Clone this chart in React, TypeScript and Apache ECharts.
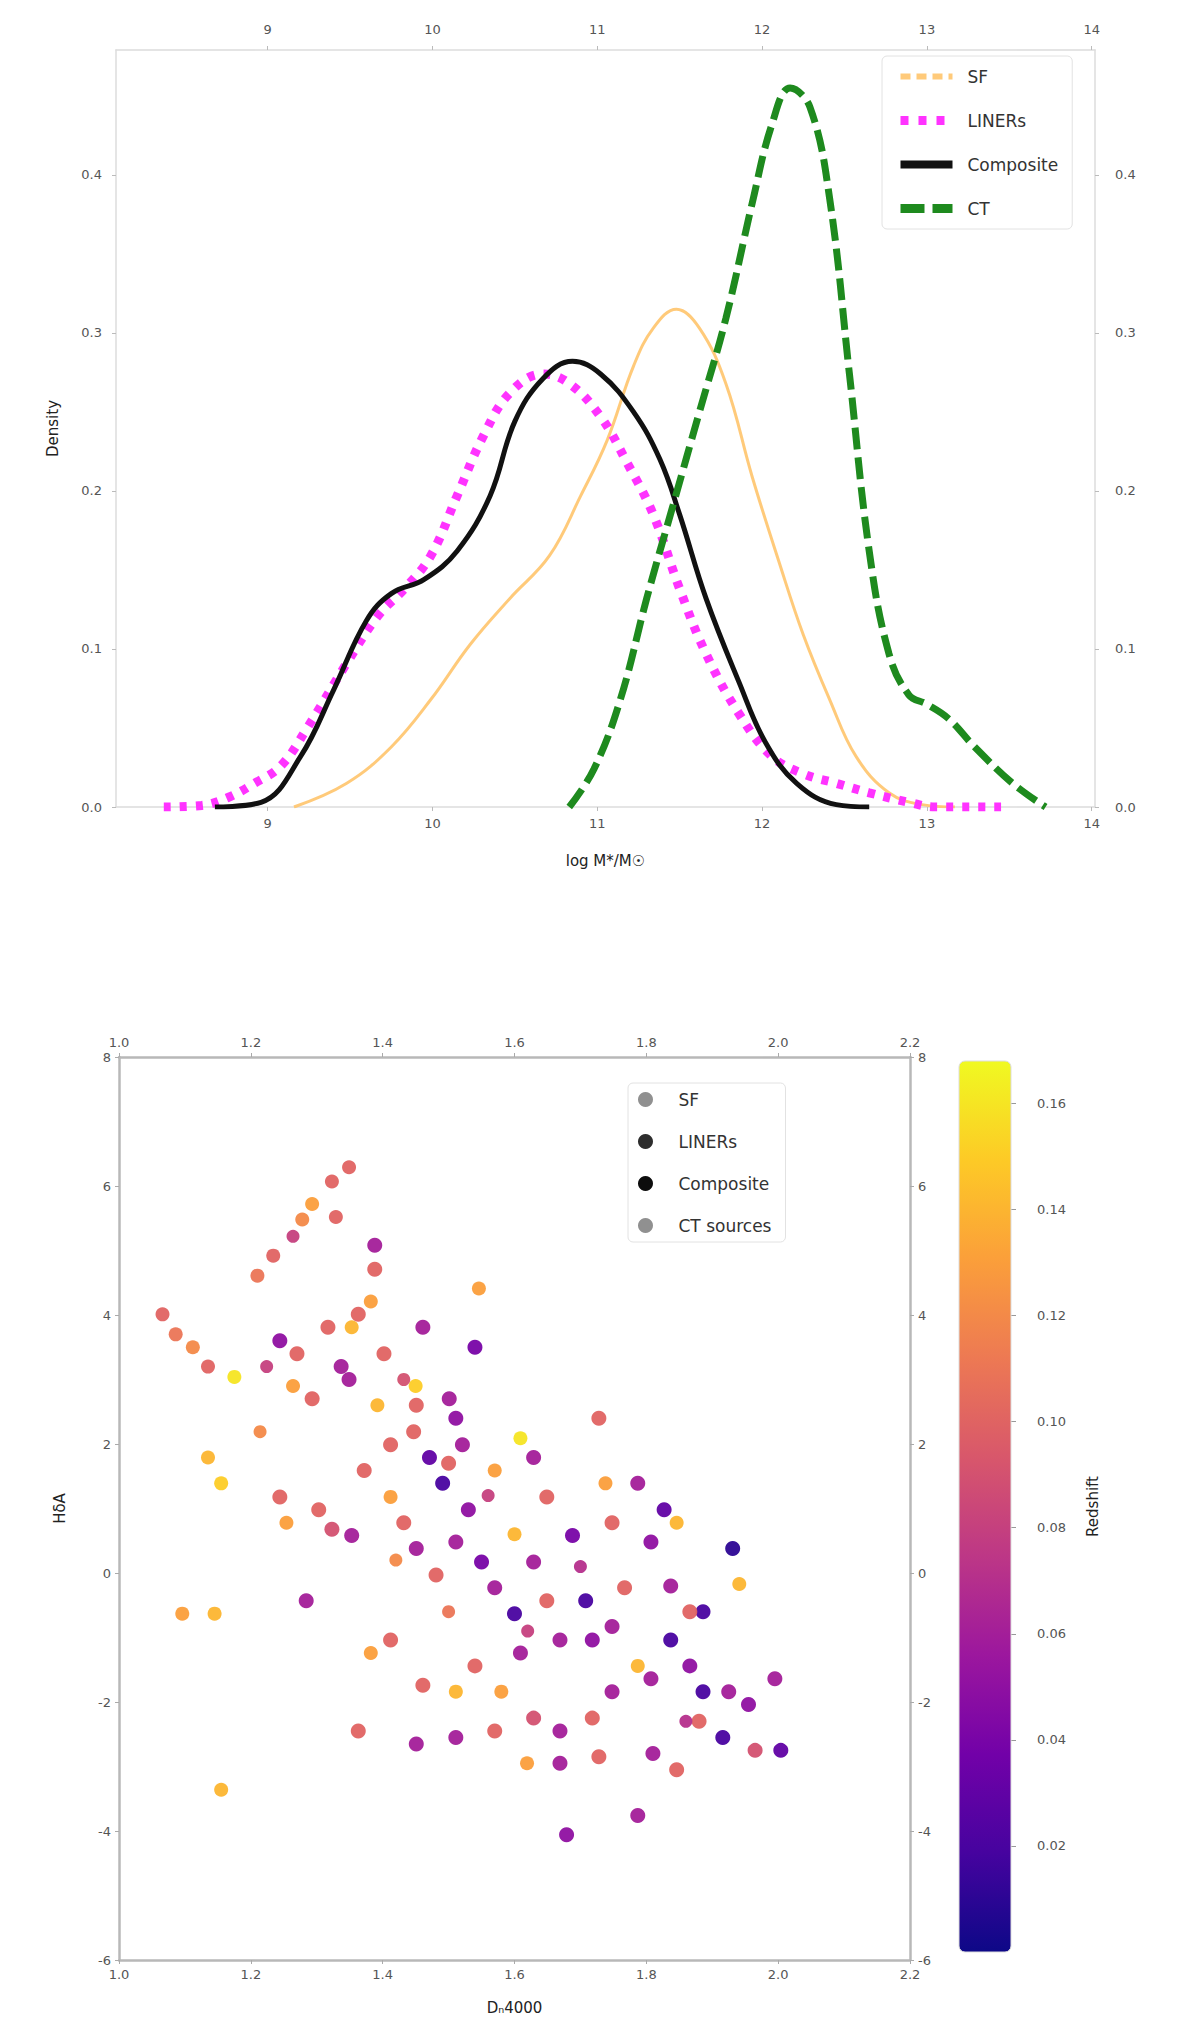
import React, { useEffect, useRef } from "react";
import * as echarts from "echarts";

// ---------- Top panel: density curves ----------
const massTicks = [9, 10, 11, 12, 13, 14];
const densityTicks = [0, 0.1, 0.2, 0.3, 0.4];

const sfCurve = [
  [9.16, 0], [9.48, 0.015], [9.75, 0.038], [9.99, 0.068], [10.23, 0.103], [10.47, 0.132],
  [10.71, 0.159], [10.9, 0.197], [11.06, 0.232], [11.22, 0.279], [11.34, 0.303], [11.48, 0.315],
  [11.62, 0.303], [11.78, 0.268], [11.94, 0.209], [12.1, 0.156], [12.25, 0.109], [12.41, 0.068],
  [12.57, 0.032], [12.77, 0.009], [12.97, 0.0015], [13.17, 0],
];
const linerCurve = [
  [8.37, 0], [8.6, 0.001], [8.76, 0.006], [8.92, 0.015], [9.08, 0.026], [9.24, 0.05], [9.48, 0.091],
  [9.67, 0.121], [9.83, 0.138], [9.99, 0.159], [10.15, 0.197], [10.31, 0.235], [10.47, 0.262],
  [10.67, 0.274], [10.83, 0.268], [11.02, 0.247], [11.18, 0.218], [11.34, 0.185], [11.5, 0.138],
  [11.66, 0.097], [11.86, 0.059], [12.06, 0.032], [12.25, 0.021], [12.45, 0.015], [12.65, 0.009],
  [12.89, 0.003], [13.05, 0], [13.45, 0],
];
const compositeCurve = [
  [8.68, 0], [8.96, 0.003], [9.2, 0.032], [9.4, 0.074], [9.6, 0.118], [9.75, 0.135], [9.95, 0.144],
  [10.15, 0.162], [10.35, 0.197], [10.5, 0.244], [10.67, 0.271], [10.85, 0.282], [11.02, 0.274],
  [11.22, 0.25], [11.38, 0.22], [11.5, 0.185], [11.66, 0.132], [11.86, 0.079], [12.02, 0.041],
  [12.21, 0.015], [12.45, 0.0015], [12.65, 0],
];
const ctCurve = [
  [10.83, 0], [10.98, 0.024], [11.14, 0.068], [11.3, 0.132], [11.46, 0.191], [11.62, 0.25],
  [11.78, 0.309], [11.94, 0.382], [12.06, 0.432], [12.17, 0.455], [12.29, 0.443], [12.41, 0.385],
  [12.53, 0.274], [12.65, 0.162], [12.77, 0.097], [12.89, 0.071], [13.0, 0.065], [13.13, 0.056],
  [13.29, 0.038], [13.52, 0.015], [13.72, 0],
];

// ---------- Bottom panel: Dn4000 vs HdeltaA, colour = redshift ----------
const dnTicks = [1.0, 1.2, 1.4, 1.6, 1.8, 2.0, 2.2];
const hdTicks = [-6, -4, -2, 0, 2, 4, 6, 8];
const zTicks = [0.02, 0.04, 0.06, 0.08, 0.1, 0.12, 0.14, 0.16];

// [Dn4000, HdeltaA, z]
const sfPoints = [
  [1.349, 6.29, 0.1], [1.323, 6.07, 0.1], [1.293, 5.72, 0.13], [1.278, 5.48, 0.12], [1.329, 5.52, 0.1],
  [1.234, 4.92, 0.1], [1.21, 4.61, 0.11], [1.382, 4.21, 0.13], [1.353, 3.81, 0.14], [1.546, 4.41, 0.13],
  [1.066, 4.01, 0.1], [1.086, 3.7, 0.11], [1.112, 3.5, 0.12], [1.135, 3.2, 0.1], [1.175, 3.04, 0.16],
  [1.264, 2.9, 0.13], [1.135, 1.79, 0.14], [1.155, 1.39, 0.15], [1.254, 0.78, 0.13], [1.096, -0.63, 0.13],
  [1.145, -0.63, 0.14], [1.155, -3.36, 0.14], [1.382, -1.24, 0.13], [1.609, 2.09, 0.16], [1.392, 2.6, 0.14],
  [1.412, 1.18, 0.13], [1.57, 1.59, 0.13], [1.738, 1.39, 0.13], [1.846, 0.78, 0.14], [1.941, -0.17, 0.14],
  [1.58, -1.84, 0.13], [1.619, -2.95, 0.13], [1.511, -1.84, 0.14], [1.787, -1.44, 0.14],
  [1.6, 0.6, 0.14], [1.45, 2.9, 0.15],
];
const linerPoints = [
  [1.388, 5.08, 0.06], [1.461, 3.81, 0.06], [1.54, 3.5, 0.04], [1.244, 3.6, 0.05], [1.337, 3.2, 0.06],
  [1.349, 3.0, 0.06], [1.501, 2.7, 0.06], [1.511, 2.4, 0.05], [1.471, 1.79, 0.03], [1.521, 1.99, 0.06],
  [1.491, 1.39, 0.02], [1.53, 0.98, 0.05], [1.629, 1.79, 0.06], [1.787, 1.39, 0.06], [1.827, 0.98, 0.03],
  [1.807, 0.48, 0.05], [1.688, 0.58, 0.04], [1.353, 0.58, 0.06], [1.451, 0.38, 0.06], [1.511, 0.48, 0.06],
  [1.55, 0.17, 0.04], [1.57, -0.23, 0.06], [1.6, -0.63, 0.02], [1.629, 0.17, 0.06], [1.669, -1.04, 0.06],
  [1.708, -0.43, 0.02], [1.718, -1.04, 0.05], [1.748, -0.83, 0.06], [1.807, -1.64, 0.06], [1.837, -1.04, 0.02],
  [1.866, -1.44, 0.05], [1.886, -1.84, 0.02], [1.925, -1.84, 0.06], [1.931, 0.38, 0.01], [1.916, -2.55, 0.02],
  [1.955, -2.04, 0.05], [1.995, -1.64, 0.06], [2.004, -2.75, 0.03], [1.284, -0.43, 0.06], [1.609, -1.24, 0.06],
  [1.669, -2.45, 0.06], [1.748, -1.84, 0.06], [1.451, -2.65, 0.06], [1.511, -2.55, 0.06], [1.669, -2.95, 0.06],
  [1.679, -4.06, 0.05], [1.787, -3.76, 0.06],
  [1.837, -0.2, 0.06], [1.886, -0.6, 0.02], [1.81, -2.8, 0.06],
];
const compositePoints = [
  [1.388, 4.71, 0.1], [1.363, 4.01, 0.1], [1.27, 3.4, 0.1], [1.317, 3.81, 0.1], [1.293, 2.7, 0.1],
  [1.402, 3.4, 0.1], [1.451, 2.6, 0.1], [1.447, 2.19, 0.1], [1.412, 1.99, 0.1], [1.649, 1.18, 0.1],
  [1.728, 2.4, 0.1], [1.748, 0.78, 0.1], [1.244, 1.18, 0.1], [1.303, 0.98, 0.1], [1.323, 0.68, 0.09],
  [1.372, 1.59, 0.1], [1.432, 0.78, 0.1], [1.481, -0.03, 0.1], [1.649, -0.43, 0.1], [1.767, -0.23, 0.1],
  [1.965, -2.75, 0.09], [1.412, -1.04, 0.1], [1.461, -1.74, 0.1], [1.54, -1.44, 0.1], [1.629, -2.25, 0.09],
  [1.718, -2.25, 0.1], [1.363, -2.45, 0.1], [1.57, -2.45, 0.1], [1.728, -2.85, 0.1], [1.846, -3.05, 0.1],
  [1.5, 1.7, 0.1], [1.866, -0.6, 0.1], [1.88, -2.3, 0.1],
];
const ctPoints = [
  [1.264, 5.22, 0.08], [1.224, 3.2, 0.08], [1.214, 2.19, 0.12], [1.432, 3.0, 0.09], [1.56, 1.2, 0.08],
  [1.7, 0.1, 0.07], [1.62, -0.9, 0.08], [1.5, -0.6, 0.11], [1.86, -2.3, 0.07], [1.42, 0.2, 0.12],
];

const plasma = ["#0d0887", "#46039f", "#7201a8", "#9c179e", "#bd3786", "#d8576b", "#ed7953", "#fb9f3a", "#fdca26", "#f0f921"];

const FONT = "DejaVu Sans";
const labelStyle = { color: "#555", fontSize: 13, fontFamily: FONT };
const frameTop = { show: true, onZero: false, lineStyle: { color: "#dcdcdc", width: 1.5 } };
const frameBot = { show: true, onZero: false, lineStyle: { color: "#b8b8b8", width: 2.5 } };

const scatterNames: Record<string, string> = {
  "SF ": "SF",
  "LINERs ": "LINERs",
  "Composite ": "Composite",
  "CT sources": "CT sources",
};

export default function App() {
  const ref = useRef<HTMLDivElement>(null);
  useEffect(() => {
    if (!ref.current) return;
    const chart = echarts.init(ref.current, null, { renderer: "svg" });
    const massAxis = (pos: string, withName: boolean) => ({
      type: "value",
      gridIndex: 0,
      position: pos,
      min: 8.08,
      max: 14.02,
      axisLine: frameTop,
      axisTick: { show: true, customValues: massTicks, length: 4, lineStyle: { color: "#bbb" } },
      axisLabel: { ...labelStyle, customValues: massTicks, margin: pos === "top" ? 14 : 10 },
      splitLine: { show: false },
      name: withName ? "log M*/M\u2609" : "",
      nameLocation: "middle",
      nameGap: 46,
      nameTextStyle: { color: "#222", fontSize: 15, fontFamily: FONT },
    });
    const densAxis = (pos: string, withName: boolean) => ({
      type: "value",
      gridIndex: 0,
      position: pos,
      min: 0,
      max: 0.479,
      interval: 0.1,
      axisLine: frameTop,
      axisTick: { show: true, length: 4, lineStyle: { color: "#bbb" } },
      axisLabel: {
        ...labelStyle,
        margin: pos === "right" ? 20 : 14,
        showMaxLabel: false,
        formatter: (v: number) => (densityTicks.some((t) => Math.abs(t - v) < 1e-6) ? v.toFixed(1) : ""),
      },
      splitLine: { show: false },
      name: withName ? "Density" : "",
      nameLocation: "middle",
      nameGap: 56,
      nameTextStyle: { color: "#222", fontSize: 15, fontFamily: FONT },
    });
    const dnAxis = (pos: string, withName: boolean) => ({
      type: "value",
      gridIndex: 1,
      position: pos,
      min: 1.0,
      max: 2.2,
      interval: 0.2,
      axisLine: frameBot,
      axisTick: { show: true, length: 4, lineStyle: { color: "#aaa" } },
      axisLabel: { ...labelStyle, margin: 8, formatter: (v: number) => (dnTicks.some((t) => Math.abs(t - v) < 1e-6) ? v.toFixed(1) : "") },
      splitLine: { show: false },
      name: withName ? "D\u20994000" : "",
      nameLocation: "middle",
      nameGap: 40,
      nameTextStyle: { color: "#222", fontSize: 15, fontFamily: FONT },
    });
    const hdAxis = (pos: string, withName: boolean) => ({
      type: "value",
      gridIndex: 1,
      position: pos,
      min: -6,
      max: 8,
      interval: 2,
      axisLine: frameBot,
      axisTick: { show: true, length: 4, lineStyle: { color: "#aaa" } },
      axisLabel: { ...labelStyle, margin: 8, formatter: (v: number) => (hdTicks.includes(v) ? String(v) : "") },
      splitLine: { show: false },
      name: withName ? "H\u03b4A" : "",
      nameLocation: "middle",
      nameGap: 52,
      nameTextStyle: { color: "#222", fontSize: 15, fontFamily: FONT },
    });

    const scatterSeries = (name: string, data: number[][], size: number) => ({
      type: "scatter",
      name,
      xAxisIndex: 2,
      yAxisIndex: 2,
      data,
      symbol: "circle",
      symbolSize: size,
      itemStyle: { opacity: 0.95 },
    });

    chart.setOption({
      animation: false,
      backgroundColor: "#fff",
      textStyle: { fontFamily: FONT },
      grid: [
        { left: 116, top: 50, width: 979, height: 757 },
        { left: 119, top: 1057, width: 791, height: 903 },
        { left: 959, top: 1061, width: 52, height: 891 },
      ],
      xAxis: [
        massAxis("bottom", true),
        massAxis("top", false),
        dnAxis("bottom", true),
        dnAxis("top", false),
        { type: "value", gridIndex: 2, show: false, min: 0, max: 1 },
      ],
      yAxis: [
        densAxis("left", true),
        densAxis("right", false),
        hdAxis("left", true),
        hdAxis("right", false),
        {
          type: "value",
          gridIndex: 2,
          position: "right",
          min: 0,
          max: 0.168,
          interval: 0.02,
          axisLine: { show: false, onZero: false },
          axisTick: { show: true, length: 5, lineStyle: { color: "#999" } },
          axisLabel: {
            ...labelStyle,
            margin: 26,
            showMinLabel: false,
            showMaxLabel: false,
            formatter: (v: number) => (zTicks.some((t) => Math.abs(t - v) < 1e-6) ? v.toFixed(2) : ""),
          },
          splitLine: { show: false },
          name: "Redshift",
          nameLocation: "middle",
          nameGap: 74,
          nameRotate: 90,
          nameTextStyle: { color: "#222", fontSize: 15, fontFamily: FONT },
        },
      ],
      visualMap: {
        type: "continuous",
        show: false,
        min: 0,
        max: 0.168,
        dimension: 2,
        seriesIndex: [4, 5, 6, 7],
        inRange: { color: plasma },
      },
      legend: [
        {
          data: [
            { name: "SF", itemStyle: { opacity: 0 }, lineStyle: { width: 6, type: [10, 6] } },
            { name: "LINERs", itemStyle: { opacity: 0 }, lineStyle: { width: 9, type: [8, 10] } },
            { name: "Composite", itemStyle: { opacity: 0 }, lineStyle: { width: 8 } },
            { name: "CT", itemStyle: { opacity: 0 }, lineStyle: { width: 9, type: [24, 8] } },
          ],
          orient: "vertical",
          left: 882,
          top: 56,
          itemWidth: 52,
          itemHeight: 16,
          itemGap: 27,
          padding: [12, 14, 12, 14],
          borderColor: "#e2e2e2",
          borderWidth: 1,
          borderRadius: 5,
          backgroundColor: "rgba(255,255,255,0.85)",
          textStyle: { color: "#333", fontSize: 17, fontFamily: FONT, padding: [0, 0, 0, 10] },
        },
        {
          data: [
            { name: "SF ", itemStyle: { color: "#8a8a8a" } },
            { name: "LINERs ", itemStyle: { color: "#222" } },
            { name: "Composite ", itemStyle: { color: "#000" } },
            { name: "CT sources", itemStyle: { color: "#8a8a8a" } },
          ],
          formatter: (n: string) => scatterNames[n] ?? n,
          orient: "vertical",
          left: 628,
          top: 1083,
          itemWidth: 40,
          itemHeight: 15,
          itemGap: 25,
          padding: [8, 14, 8, 10],
          borderColor: "#e2e2e2",
          borderWidth: 1,
          borderRadius: 5,
          backgroundColor: "rgba(255,255,255,0.85)",
          textStyle: { color: "#333", fontSize: 17, fontFamily: FONT, padding: [0, 0, 0, 8] },
        },
      ],
      graphic: [
        {
          type: "rect",
          shape: { x: 959, y: 1061, width: 52, height: 891, r: 6 },
          style: {
            fill: {
              type: "linear",
              x: 0, y: 1, x2: 0, y2: 0,
              colorStops: plasma.map((c, i) => ({ offset: i / (plasma.length - 1), color: c })),
            },
            stroke: "#ddd",
            lineWidth: 1,
          },
          z: 10,
        },
      ],
      series: [
        {
          type: "line", name: "SF", xAxisIndex: 0, yAxisIndex: 0, data: sfCurve, symbol: "none",
          smooth: 0.4, color: "#ffc46b",
          lineStyle: { color: "#ffc46b", width: 3, opacity: 0.9 }, z: 2,
        },
        {
          type: "line", name: "LINERs", xAxisIndex: 0, yAxisIndex: 0, data: linerCurve, symbol: "none",
          smooth: 0.4, color: "#ff33ff",
          lineStyle: { color: "#ff33ff", width: 9, type: [7, 9] }, z: 3,
        },
        {
          type: "line", name: "Composite", xAxisIndex: 0, yAxisIndex: 0, data: compositeCurve, symbol: "none",
          smooth: 0.4, color: "#111",
          lineStyle: { color: "#111", width: 5 }, z: 4,
        },
        {
          type: "line", name: "CT", xAxisIndex: 0, yAxisIndex: 0, data: ctCurve, symbol: "none",
          smooth: 0.4, color: "#1e8a1e",
          lineStyle: { color: "#1e8a1e", width: 7, type: [22, 8] }, z: 5,
        },
        scatterSeries("SF ", sfPoints, 14),
        scatterSeries("LINERs ", linerPoints, 15),
        scatterSeries("Composite ", compositePoints, 15),
        scatterSeries("CT sources", ctPoints, 13),
      ],
    });
    return () => chart.dispose();
  }, []);
  return <div ref={ref} style={{ position: "absolute", left: 0, top: 0, width: 1200, height: 2040 }} />;
}
